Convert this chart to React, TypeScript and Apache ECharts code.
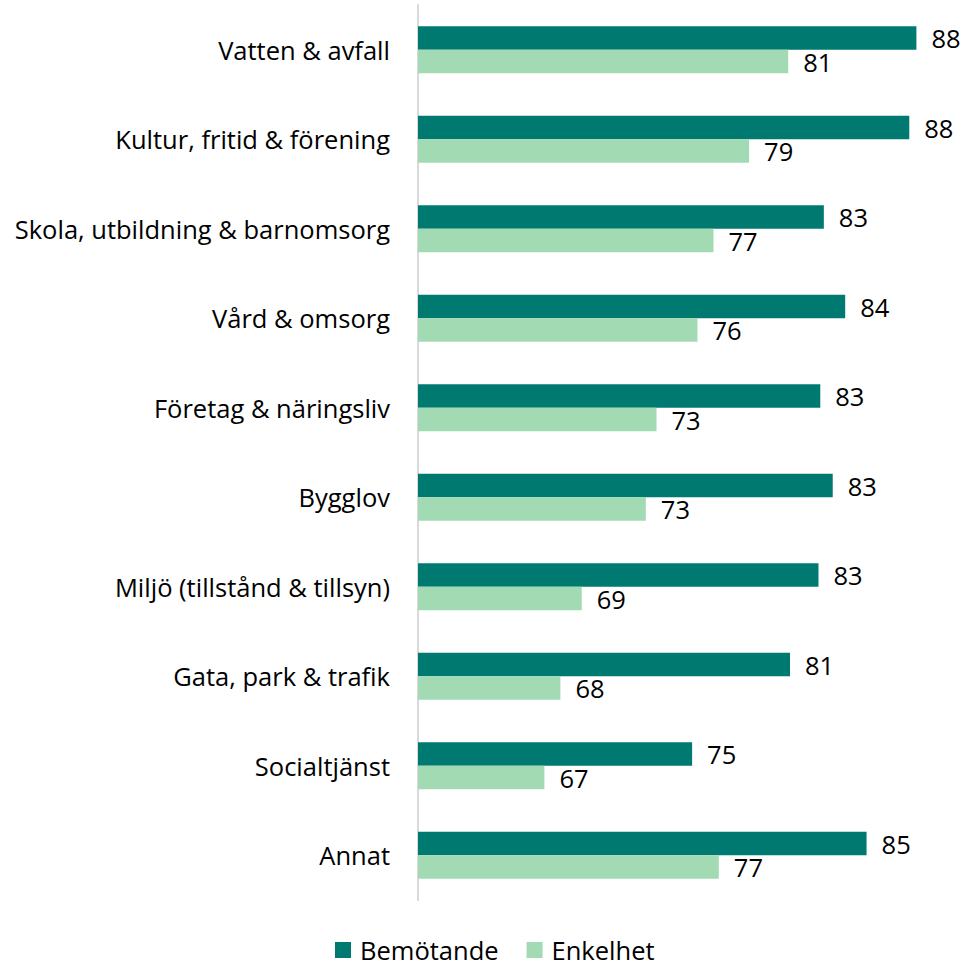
import React, { useEffect, useRef } from "react";
import * as echarts from "echarts";

const categories = [
  "Vatten & avfall",
  "Kultur, fritid & förening",
  "Skola, utbildning & barnomsorg",
  "Vård & omsorg",
  "Företag & näringsliv",
  "Bygglov",
  "Miljö (tillstånd & tillsyn)",
  "Gata, park & trafik",
  "Socialtjänst",
  "Annat",
];
const bemotande = [88.0, 87.6, 82.8, 84.0, 82.6, 83.3, 82.5, 80.9, 75.4, 85.2];
const enkelhet = [80.8, 78.6, 76.6, 75.7, 73.4, 72.8, 69.2, 68.0, 67.1, 76.9];
const seriesNames = ["Bemötande", "Enkelhet"];

const FONT = "'Open Sans', 'Noto Sans', sans-serif";
const FS = 25.5;

export default function App() {
  const ref = useRef<HTMLDivElement>(null);
  useEffect(() => {
    if (!ref.current) return;
    const chart = echarts.init(ref.current, undefined, { renderer: "svg" });
    const label = {
      show: true,
      position: "right" as const,
      distance: 15,
      fontSize: FS,
      fontFamily: FONT,
      color: "#000",
      formatter: (p: any) => String(Math.round(p.value)),
    };
    chart.setOption({
      animation: false,
      backgroundColor: "#fff",
      textStyle: { fontFamily: FONT },
      grid: { left: 418, right: 14, top: 5, bottom: 66, containLabel: false },
      legend: {
        left: 335,
        top: 937,
        itemWidth: 16,
        itemHeight: 16,
        itemGap: 28,
        icon: "rect",
        padding: 0,
        textStyle: {
          fontSize: FS,
          fontFamily: FONT,
          color: "#000",
          lineHeight: 22,
          padding: [0, 0, 0, 4],
        },
        data: seriesNames,
      },
      xAxis: {
        type: "value",
        min: 60,
        max: 90,
        show: false,
        splitLine: { show: false },
      },
      yAxis: {
        type: "category",
        inverse: true,
        data: categories,
        axisTick: { show: false },
        axisLine: { show: true, onZero: false, lineStyle: { color: "#d9d9d9", width: 2 } },
        axisLabel: { fontSize: FS, fontFamily: FONT, color: "#000", margin: 28 },
      },
      series: [
        {
          name: seriesNames[0],
          type: "bar",
          data: bemotande,
          barWidth: 23.5,
          barGap: "0%",
          itemStyle: { color: "#007A70" },
          label,
        },
        {
          name: seriesNames[1],
          type: "bar",
          data: enkelhet,
          barWidth: 23.5,
          barGap: "0%",
          itemStyle: { color: "#A2DBB3" },
          label,
        },
      ],
    });
    return () => chart.dispose();
  }, []);
  return (
    <div
      ref={ref}
      style={{ position: "fixed", left: 0, top: 0, width: 966, height: 966 }}
    />
  );
}
